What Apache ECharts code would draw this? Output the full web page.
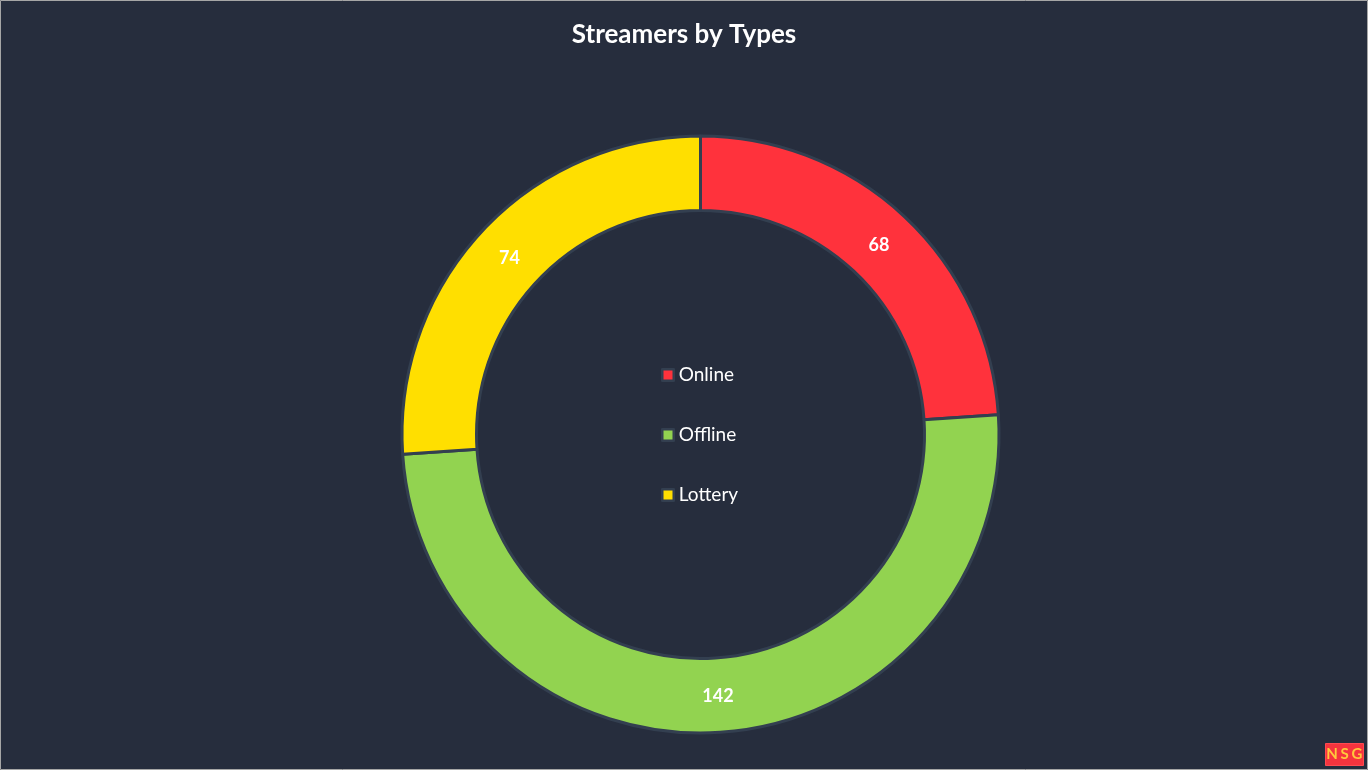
<!DOCTYPE html>
<html>
<head>
<meta charset="utf-8">
<title>Streamers by Types</title>
<script src="https://cdn.jsdelivr.net/npm/echarts@6/dist/echarts.min.js"></script>
<style>
html, body { margin: 0; padding: 0; background: #262d3d; }
#main { width: 1368px; height: 770px; }
</style>
</head>
<body>
<div id="main"></div>
<script>
var titleText = 'Streamers by Types';
var categories = ['Online', 'Offline', 'Lottery'];
var values = [68, 142, 74];
var colors = ['#ff323c', '#92d350', '#ffdf00'];
var labelNudge = [[-2, 4], [0, -2], [2, 4]];

var myChart = echarts.init(document.getElementById('main'), null, { renderer: 'canvas' });

// small logo in the corner, letters drawn one by one
var logoLetters = ['N', 'S', 'G'];
var logo = [{
    type: 'rect',
    shape: { x: 1325.5, y: 743.5, width: 38, height: 22 },
    style: { fill: '#f5343e', stroke: '#ff4a50', lineWidth: 1 },
    silent: true
}];
logoLetters.forEach(function (ch, i) {
    logo.push({
        type: 'text',
        x: 1332 + i * 12.5,
        y: 754.5,
        style: {
            text: ch,
            fill: '#ffc83c',
            fontFamily: 'Lato',
            fontSize: 15,
            fontWeight: 'bold',
            align: 'center',
            verticalAlign: 'middle'
        },
        silent: true
    });
});

myChart.setOption({
    backgroundColor: '#262d3d',
    animation: false,
    title: {
        text: titleText,
        left: 'center',
        top: 16.5,
        textStyle: { color: '#ffffff', fontFamily: 'Lato', fontSize: 26, fontWeight: 'bold' }
    },
    legend: {
        orient: 'vertical',
        left: 656,
        top: 360.5,
        itemWidth: 11.5,
        itemHeight: 11.5,
        itemGap: 41,
        icon: 'rect',
        data: categories,
        itemStyle: { borderColor: '#333f50', borderWidth: 2.5 },
        textStyle: { color: '#ffffff', fontFamily: 'Lato', fontSize: 19 }
    },
    series: [
        {
            type: 'pie',
            center: [700.5, 434.5],
            radius: [224, 298.5],
            startAngle: 90,
            clockwise: true,
            avoidLabelOverlap: false,
            itemStyle: { borderColor: '#333f50', borderWidth: 3 },
            label: {
                show: true,
                position: 'inside',
                formatter: '{c}',
                color: '#ffffff',
                fontFamily: 'Lato',
                fontSize: 18,
                fontWeight: 'bold'
            },
            labelLine: { show: false },
            data: categories.map(function (name, i) {
                return {
                    name: name,
                    value: values[i],
                    itemStyle: { color: colors[i] },
                    label: { offset: labelNudge[i] }
                };
            })
        }
    ],
    graphic: [
        {
            type: 'rect',
            shape: { x: 0.5, y: 0.5, width: 1367, height: 769 },
            style: { fill: 'none', stroke: '#a6a6a6', lineWidth: 1 },
            silent: true
        }
    ].concat(logo)
});
</script>
</body>
</html>
